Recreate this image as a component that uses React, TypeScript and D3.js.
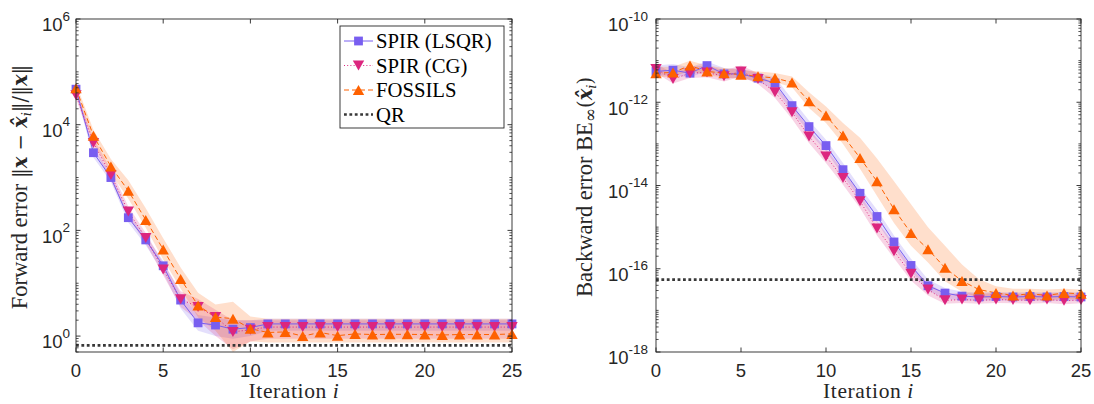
import React from 'react';
import * as d3 from 'd3';

// ---------------- data ----------------
const iterations = [0, 1, 2, 3, 4, 5, 6, 7, 8, 9, 10, 11, 12, 13, 14, 15, 16, 17, 18, 19, 20, 21, 22, 23, 24, 25];
const xTickValues = [0, 5, 10, 15, 20, 25];
const forwardYTickExponents = [0, 2, 4, 6];
const backwardYTickExponents = [-18, -16, -14, -12, -10];
const seriesNames = ['SPIR (LSQR)', 'SPIR (CG)', 'FOSSILS', 'QR'];

// forward error (median)
const lsqrForward = [4.7e4, 2.95e3, 1.0e3, 174, 66, 21.4, 4.8, 1.78, 1.62, 1.35, 1.45, 1.7, 1.7, 1.7, 1.7, 1.7, 1.7, 1.7, 1.7, 1.7, 1.7, 1.7, 1.7, 1.7, 1.7, 1.7];
const cgForward = [3.6e4, 4.5e3, 1.12e3, 229, 72, 18.2, 5.0, 3.55, 2.3, 1.2, 1.32, 1.48, 1.48, 1.48, 1.48, 1.48, 1.48, 1.48, 1.48, 1.48, 1.48, 1.48, 1.48, 1.48, 1.48, 1.48];
const fossilsForward = [4.9e4, 6.17e3, 1.62e3, 562, 158, 43.7, 12.0, 3.8, 2.29, 2.14, 1.38, 1.17, 1.2, 1.0, 1.17, 1.02, 1.1, 1.07, 1.08, 1.08, 1.07, 1.05, 1.07, 1.07, 1.07, 1.1];
const qrForward = 0.67;

// forward error spread (log10 of lower / upper envelope)
const lsqrForwardBandLoLog10 = [4.6, 3.38, 2.92, 2.15, 1.72, 1.2, 0.52, 0.1, 0.0, -0.05, 0.0, 0.1, 0.1, 0.1, 0.1, 0.1, 0.1, 0.1, 0.1, 0.1, 0.1, 0.1, 0.1, 0.1, 0.1, 0.1];
const lsqrForwardBandHiLog10 = [4.72, 3.55, 3.08, 2.32, 1.9, 1.42, 0.8, 0.4, 0.35, 0.3, 0.3, 0.33, 0.33, 0.33, 0.33, 0.33, 0.33, 0.33, 0.33, 0.33, 0.33, 0.33, 0.33, 0.33, 0.33, 0.33];
const cgForwardBandLoLog10 = [4.5, 3.55, 2.95, 2.25, 1.75, 1.15, 0.55, 0.3, 0.0, -0.25, -0.1, -0.05, -0.05, -0.05, -0.05, -0.05, -0.05, -0.05, -0.05, -0.05, -0.05, -0.05, -0.05, -0.05, -0.05, -0.05];
const cgForwardBandHiLog10 = [4.65, 3.75, 3.15, 2.45, 1.95, 1.38, 0.85, 0.7, 0.5, 0.3, 0.3, 0.3, 0.3, 0.3, 0.3, 0.3, 0.3, 0.3, 0.3, 0.3, 0.3, 0.3, 0.3, 0.3, 0.3, 0.3];
const fossilsForwardBandLoLog10 = [4.6, 3.65, 3.08, 2.6, 2.05, 1.45, 0.9, 0.35, 0.1, -0.3, -0.1, -0.12, -0.12, -0.12, -0.12, -0.12, -0.12, -0.12, -0.12, -0.12, -0.12, -0.12, -0.12, -0.12, -0.12, -0.12];
const fossilsForwardBandHiLog10 = [4.78, 3.9, 3.35, 2.95, 2.42, 1.85, 1.3, 0.82, 0.6, 0.65, 0.37, 0.33, 0.33, 0.33, 0.33, 0.33, 0.33, 0.33, 0.33, 0.33, 0.33, 0.33, 0.33, 0.33, 0.33, 0.33];

// backward error (median)
const lsqrBackward = [5.5e-12, 5.9e-12, 5.0e-12, 7.6e-12, 4.8e-12, 4.8e-12, 3.8e-12, 2.9e-12, 8.3e-13, 2.6e-13, 9.1e-14, 2.4e-14, 6.5e-15, 1.8e-15, 4.4e-16, 1.2e-16, 3.9e-17, 2.6e-17, 2.2e-17, 2.1e-17, 2.15e-17, 2.1e-17, 2.15e-17, 2.1e-17, 2.15e-17, 2.1e-17];
const cgBackward = [6.3e-12, 3.6e-12, 5.0e-12, 5.2e-12, 4.2e-12, 5.5e-12, 3.6e-12, 1.74e-12, 5.75e-13, 1.51e-13, 5.0e-14, 1.51e-14, 4.2e-15, 9.3e-16, 2.63e-16, 7.6e-17, 3.16e-17, 1.74e-17, 1.82e-17, 1.74e-17, 1.82e-17, 1.78e-17, 1.74e-17, 1.82e-17, 1.7e-17, 1.78e-17];
const fossilsBackward = [5.0e-12, 5.2e-12, 7.6e-12, 5.5e-12, 5.0e-12, 4.6e-12, 4.2e-12, 3.8e-12, 3.0e-12, 1.05e-12, 4.8e-13, 1.58e-13, 4.6e-14, 1.26e-14, 2.7e-15, 7.2e-16, 2.95e-16, 1.05e-16, 5.1e-17, 3.16e-17, 2.63e-17, 2.29e-17, 2.5e-17, 2.29e-17, 2.63e-17, 2.5e-17];
const qrBackward = 5.5e-17;

// backward error spread (log10)
const lsqrBackwardBandLoLog10 = [-11.36, -11.35, -11.4, -11.25, -11.42, -11.42, -11.52, -11.68, -12.22, -12.72, -13.18, -13.76, -14.33, -14.88, -15.5, -16.06, -16.52, -16.72, -16.76, -16.77, -16.76, -16.77, -16.76, -16.77, -16.76, -16.77];
const lsqrBackwardBandHiLog10 = [-11.12, -11.08, -11.16, -11.02, -11.18, -11.2, -11.3, -11.4, -11.92, -12.44, -12.9, -13.46, -14.04, -14.58, -15.2, -15.76, -16.26, -16.46, -16.55, -16.57, -16.56, -16.57, -16.56, -16.57, -16.56, -16.57];
const cgBackwardBandLoLog10 = [-11.3, -11.55, -11.42, -11.4, -11.5, -11.38, -11.56, -11.9, -12.4, -12.98, -13.46, -13.98, -14.54, -15.2, -15.75, -16.28, -16.64, -16.84, -16.82, -16.84, -16.82, -16.83, -16.84, -16.82, -16.85, -16.83];
const cgBackwardBandHiLog10 = [-11.08, -11.3, -11.15, -11.12, -11.24, -11.12, -11.3, -11.6, -12.06, -12.64, -13.12, -13.64, -14.2, -14.86, -15.4, -15.94, -16.34, -16.6, -16.58, -16.6, -16.58, -16.59, -16.6, -16.58, -16.61, -16.59];
const fossilsBackwardBandLoLog10 = [-11.4, -11.38, -11.25, -11.36, -11.4, -11.44, -11.48, -11.52, -11.64, -12.14, -12.5, -13.0, -13.6, -14.25, -14.9, -15.45, -15.85, -16.3, -16.55, -16.7, -16.72, -16.75, -16.74, -16.75, -16.73, -16.74];
const fossilsBackwardBandHiLog10 = [-11.15, -11.15, -11.0, -11.12, -11.18, -11.22, -11.26, -11.3, -11.38, -11.76, -12.1, -12.5, -12.85, -13.35, -13.9, -14.45, -15.0, -15.45, -15.9, -16.25, -16.42, -16.48, -16.48, -16.5, -16.48, -16.5];

// ---------------- style ----------------
const AX = '#262626';
const C_LSQR = '#785EF0';
const C_CG = '#DC267F';
const C_FOS = '#FE6100';
const C_QR = '#383838';
const SANS = "'Liberation Sans', Arial, Helvetica, sans-serif";
const SERIF = "'Liberation Serif', 'Times New Roman', serif";
const MATH = "'DejaVu Serif', serif";

type Marker = 'square' | 'up' | 'down';
interface Series {
  name: string;
  color: string;
  values: number[];
  lo: number[];
  hi: number[];
  marker: Marker;
  dash: string;
}

function markerPath(kind: Marker): string {
  if (kind === 'square') {
    const s = 8.8;
    return `M${-s / 2},${-s / 2}h${s}v${s}h${-s}Z`;
  }
  const w = 11.4;
  const h = 10;
  if (kind === 'up') return `M0,${-h / 2}L${w / 2},${h / 2}L${-w / 2},${h / 2}Z`;
  return `M0,${h / 2}L${w / 2},${-h / 2}L${-w / 2},${-h / 2}Z`;
}

interface PanelProps {
  clipId: string;
  left: number;
  right: number;
  top: number;
  bottom: number;
  yDomain: [number, number];
  yTickExps: number[];
  series: Series[];
  qr: number;
  labelGap: number;
}

function Panel(p: PanelProps) {
  const { clipId, left, right, top, bottom, yDomain, yTickExps, series, qr, labelGap } = p;
  const x = d3.scaleLinear().domain([0, 25]).range([left, right]);
  const y = d3.scaleLog().domain(yDomain).range([bottom, top]);
  const isMajor = (v: number) => yTickExps.some((e) => Math.abs(Math.log10(v) - e) < 1e-6);
  const minor = y.ticks().filter((v) => !isMajor(v) && v >= yDomain[0] && v <= yDomain[1]);
  const majLen = 4.5;
  const minLen = 2.6;

  const line = d3
    .line<number>()
    .x((_, i) => x(iterations[i]))
    .y((v) => y(v));

  return (
    <g>
      <defs>
        <clipPath id={clipId}>
          <rect x={left} y={top} width={right - left} height={bottom - top} />
        </clipPath>
      </defs>
      <g clipPath={`url(#${clipId})`}>
        {series.map((s) => {
          const area = d3
            .area<number>()
            .x((_, i) => x(iterations[i]))
            .y0((_, i) => y(10 ** s.lo[i]))
            .y1((_, i) => y(10 ** s.hi[i]));
          return <path key={s.name + 'band'} d={area(s.values) || ''} fill={s.color} fillOpacity={0.2} stroke="none" />;
        })}
        <line x1={x(0)} x2={x(25)} y1={y(qr)} y2={y(qr)} stroke={C_QR} strokeWidth={2.7} strokeDasharray="2.8 2.6" />
        {series.map((s) => (
          <path key={s.name + 'line'} d={line(s.values) || ''} fill="none" stroke={s.color} strokeWidth={1} strokeDasharray={s.dash} />
        ))}
      </g>
      {series.map((s) => (
        <g key={s.name + 'markers'} fill={s.color}>
          {s.values.map((v, i) => (
            <path key={i} d={markerPath(s.marker)} transform={`translate(${x(iterations[i])},${y(v)})`} />
          ))}
        </g>
      ))}
      <rect x={left} y={top} width={right - left} height={bottom - top} fill="none" stroke={AX} strokeWidth={0.9} />
      {xTickValues.map((v) => (
        <g key={'xt' + v}>
          <line x1={x(v)} x2={x(v)} y1={bottom} y2={bottom - majLen} stroke={AX} strokeWidth={0.9} />
          <line x1={x(v)} x2={x(v)} y1={top} y2={top + majLen} stroke={AX} strokeWidth={0.9} />
          <text x={x(v)} y={377} textAnchor="middle" fontFamily={SANS} fontSize={18.5} fill={AX}>
            {v}
          </text>
        </g>
      ))}
      {minor.map((v, i) => (
        <g key={'ym' + i}>
          <line x1={left} x2={left + minLen} y1={y(v)} y2={y(v)} stroke={AX} strokeWidth={0.8} />
          <line x1={right} x2={right - minLen} y1={y(v)} y2={y(v)} stroke={AX} strokeWidth={0.8} />
        </g>
      ))}
      {yTickExps.map((e) => {
        const yy = y(10 ** e);
        return (
          <g key={'yt' + e}>
            <line x1={left} x2={left + majLen} y1={yy} y2={yy} stroke={AX} strokeWidth={0.9} />
            <line x1={right} x2={right - majLen} y1={yy} y2={yy} stroke={AX} strokeWidth={0.9} />
            <text x={left - labelGap} y={yy + 12.3} textAnchor="end" fontFamily={SANS} fontSize={18.5} fill={AX}>
              10
              <tspan dy={-10.8} fontSize={13.5}>
                {String(e)}
              </tspan>
            </text>
          </g>
        );
      })}
    </g>
  );
}

function Legend({ x0, y0 }: { x0: number; y0: number }) {
  const rows = [
    { name: seriesNames[0], color: C_LSQR, dash: '', marker: 'square' as Marker },
    { name: seriesNames[1], color: C_CG, dash: '1 2.2', marker: 'down' as Marker },
    { name: seriesNames[2], color: C_FOS, dash: '5 3', marker: 'up' as Marker },
    { name: seriesNames[3], color: C_QR, dash: '2.8 2.6', marker: null },
  ];
  const w = 164;
  const h = 102;
  return (
    <g>
      <rect x={x0} y={y0} width={w} height={h} fill="#fff" stroke={AX} strokeWidth={0.9} />
      {rows.map((r, i) => {
        const cy = y0 + 15 + i * 24.5;
        return (
          <g key={r.name}>
            <line
              x1={x0 + 4}
              x2={x0 + 33}
              y1={cy}
              y2={cy}
              stroke={r.color}
              strokeWidth={r.marker ? 1 : 2.7}
              strokeDasharray={r.dash}
            />
            {r.marker && <path d={markerPath(r.marker)} transform={`translate(${x0 + 18.5},${cy})`} fill={r.color} />}
            <text x={x0 + 36} y={cy + 7} fontFamily={SERIF} fontSize={20.7} fill="#000">
              {r.name}
            </text>
          </g>
        );
      })}
    </g>
  );
}

export default function App() {
  const forwardSeries: Series[] = [
    { name: seriesNames[0], color: C_LSQR, values: lsqrForward, lo: lsqrForwardBandLoLog10, hi: lsqrForwardBandHiLog10, marker: 'square', dash: '' },
    { name: seriesNames[1], color: C_CG, values: cgForward, lo: cgForwardBandLoLog10, hi: cgForwardBandHiLog10, marker: 'down', dash: '1 2.2' },
    { name: seriesNames[2], color: C_FOS, values: fossilsForward, lo: fossilsForwardBandLoLog10, hi: fossilsForwardBandHiLog10, marker: 'up', dash: '5 3' },
  ];
  const backwardSeries: Series[] = [
    { name: seriesNames[0], color: C_LSQR, values: lsqrBackward, lo: lsqrBackwardBandLoLog10, hi: lsqrBackwardBandHiLog10, marker: 'square', dash: '' },
    { name: seriesNames[1], color: C_CG, values: cgBackward, lo: cgBackwardBandLoLog10, hi: cgBackwardBandHiLog10, marker: 'down', dash: '1 2.2' },
    { name: seriesNames[2], color: C_FOS, values: fossilsBackward, lo: fossilsBackwardBandLoLog10, hi: fossilsBackwardBandHiLog10, marker: 'up', dash: '5 3' },
  ];

  const L = { left: 76, right: 512, top: 19, bottom: 352 };
  const R = { left: 656, right: 1081, top: 19, bottom: 352 };
  const bi = { fontWeight: 'bold' as const, fontStyle: 'italic' as const, fontFamily: MATH };

  return (
    <svg width={1094} height={404} style={{ position: 'absolute', left: 0, top: 0, background: '#fff' }}>
      <rect x={0} y={0} width={1094} height={404} fill="#fff" />
      <Panel clipId="clipL" {...L} yDomain={[0.5, 1e6]} yTickExps={forwardYTickExponents} series={forwardSeries} qr={qrForward} labelGap={6} />
      <Panel clipId="clipR" {...R} yDomain={[1e-18, 1e-10]} yTickExps={backwardYTickExponents} series={backwardSeries} qr={qrBackward} labelGap={8} />
      <Legend x0={340} y0={26} />

      <text x={(L.left + L.right) / 2} y={398} textAnchor="middle" fontFamily={SERIF} fontSize={21.5} letterSpacing={0.6} fill={AX}>
        Iteration <tspan fontStyle="italic">i</tspan>
      </text>
      <text x={(R.left + R.right) / 2} y={398} textAnchor="middle" fontFamily={SERIF} fontSize={21.5} letterSpacing={0.6} fill={AX}>
        Iteration <tspan fontStyle="italic">i</tspan>
      </text>

      <text transform="translate(27,187) rotate(-90)" textAnchor="middle" fontFamily={SERIF} fontSize={22.5} fill={AX}>
        <tspan>Forward error </tspan>
        <tspan fontFamily={MATH} fontSize={19.5}>‖</tspan>
        <tspan {...bi} fontSize={19.5}>x</tspan>
        <tspan fontFamily={MATH} fontSize={19.5}> − </tspan>
        <tspan {...bi} fontSize={19.5}>x̂</tspan>
        <tspan fontFamily={MATH} fontStyle="italic" fontSize={13} dy={4}>i</tspan>
        <tspan fontFamily={MATH} fontSize={19.5} dy={-4}>‖/‖</tspan>
        <tspan {...bi} fontSize={19.5}>x</tspan>
        <tspan fontFamily={MATH} fontSize={19.5}>‖</tspan>
      </text>
      <text transform="translate(592,187) rotate(-90)" textAnchor="middle" fontFamily={SERIF} fontSize={22.5} fill={AX}>
        <tspan>Backward error BE</tspan>
        <tspan fontFamily={MATH} fontSize={17} dy={4}>∞</tspan>
        <tspan fontFamily={MATH} fontSize={19.5} dy={-4}>(</tspan>
        <tspan {...bi} fontSize={19.5}>x̂</tspan>
        <tspan fontFamily={MATH} fontStyle="italic" fontSize={13} dy={4}>i</tspan>
        <tspan fontFamily={MATH} fontSize={19.5} dy={-4}>)</tspan>
      </text>
    </svg>
  );
}
